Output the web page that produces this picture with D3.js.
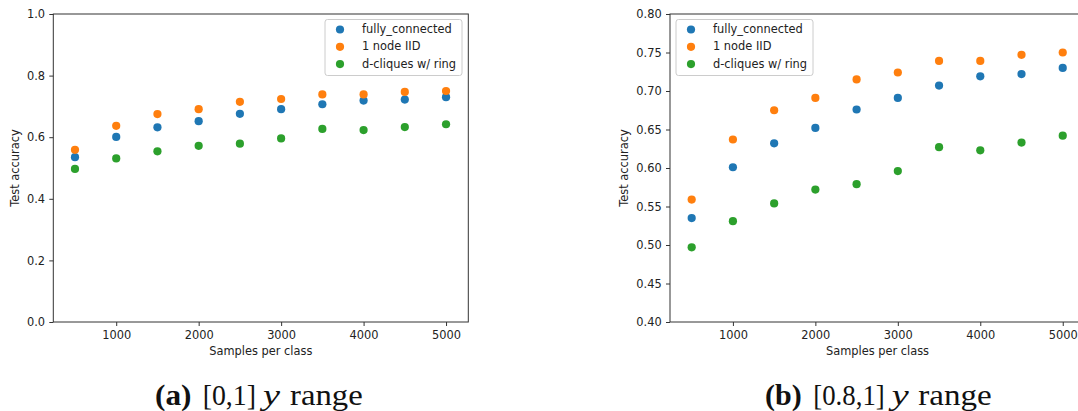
<!DOCTYPE html>
<html><head><meta charset="utf-8">
<script src="https://cdn.jsdelivr.net/npm/d3@7"></script>
<style>
html,body{margin:0;padding:0;background:#fff;}
svg{display:block;}
</style></head>
<body>
<script>
const samples = [500,1000,1500,2000,2500,3000,3500,4000,4500,5000];
const fullyConnected = [0.535,0.601,0.632,0.652,0.676,0.691,0.707,0.719,0.722,0.730];
const oneNodeIID = [0.559,0.637,0.675,0.691,0.715,0.724,0.739,0.739,0.747,0.750];
const dCliquesRing = [0.497,0.531,0.554,0.572,0.579,0.596,0.627,0.623,0.633,0.642];
const seriesNames = ["fully_connected","1 node IID","d-cliques w/ ring"];
const seriesColors = ["#1f77b4","#ff7f0e","#2ca02c"];
const xTicks = [1000,2000,3000,4000,5000];
const yTicksA = [0.0,0.2,0.4,0.6,0.8,1.0];
const yTicksB = [0.40,0.45,0.50,0.55,0.60,0.65,0.70,0.75,0.80];

const W=1078,H=411;
const svg=d3.select("body").append("svg").attr("width",W).attr("height",H);
const series=[fullyConnected,oneNodeIID,dCliquesRing];
const txt="#222";
const FONT="'DejaVu Sans', sans-serif";
const FS="11.4px";

function panel(opt){
  const g=svg.append("g");
  const x=d3.scaleLinear().domain([237,5270]).range([opt.left,opt.left+415]);
  const y=d3.scaleLinear().domain(opt.ydom).range([322,14]);
  const x0=opt.left, x1=opt.left+415;
  g.append("rect").attr("x",x0).attr("y",14).attr("width",415).attr("height",308)
    .attr("fill","none").attr("stroke","#333").attr("stroke-width",1);
  const xa=g.append("g").attr("transform","translate(0,322)")
    .call(d3.axisBottom(x).tickValues(xTicks).tickSize(4).tickPadding(5).tickFormat(d3.format("d")));
  xa.select(".domain").remove();
  xa.selectAll("line").attr("stroke","#333");
  xa.selectAll("text").attr("font-family",FONT).attr("font-size",FS).attr("fill",txt);
  const ya=g.append("g").attr("transform",`translate(${x0},0)`)
    .call(d3.axisLeft(y).tickValues(opt.yticks).tickSize(4).tickPadding(4.3).tickFormat(d3.format(opt.yfmt)));
  ya.select(".domain").remove();
  ya.selectAll("line").attr("stroke","#333");
  ya.selectAll("text").attr("font-family",FONT).attr("font-size",FS).attr("fill",txt);
  g.append("text").attr("x",(x0+x1)/2).attr("y",355).attr("text-anchor","middle")
    .attr("font-family",FONT).attr("font-size",FS).attr("fill",txt).text("Samples per class");
  g.append("text").attr("transform",`translate(${opt.ylabX},168) rotate(-90)`).attr("text-anchor","middle")
    .attr("font-family",FONT).attr("font-size",FS).attr("fill",txt).text("Test accuracy");
  series.forEach((s,i)=>{
    g.append("g").selectAll("circle").data(samples.map((d,j)=>[d,s[j]])).join("circle")
      .attr("cx",d=>x(d[0])).attr("cy",d=>y(d[1])).attr("r",4.1).attr("fill",seriesColors[i]);
  });
  const lg=g.append("g");
  lg.append("rect").attr("x",opt.legX).attr("y",19.5).attr("width",opt.legW).attr("height",56).attr("rx",2.5)
    .attr("fill","#fff").attr("fill-opacity",0.8).attr("stroke","#ccc").attr("stroke-width",1);
  seriesNames.forEach((n,i)=>{
    const cy=29.5+i*17.3;
    lg.append("circle").attr("cx",opt.legX+15).attr("cy",cy).attr("r",4.1).attr("fill",seriesColors[i]);
    lg.append("text").attr("x",opt.legX+37).attr("y",cy+3.6).attr("font-family",FONT).attr("font-size",FS)
      .attr("fill",txt).text(n);
  });
}
panel({left:53.3,ydom:[0,1],yticks:yTicksA,yfmt:".1f",ylabX:18.5,legX:325,legW:137});
panel({left:670,ydom:[0.4,0.8],yticks:yTicksB,yfmt:".2f",ylabX:628,legX:676,legW:137});

function cap(parts){
  parts.forEach(p=>{
    const t=svg.append("text").attr("x",p.x).attr("y",405)
      .attr("font-family","'Liberation Serif', 'Times New Roman', serif")
      .attr("font-size","30px").attr("fill","#111")
      .attr("textLength",p.w).attr("lengthAdjust","spacingAndGlyphs").text(p.t);
    if(p.b) t.attr("font-weight","bold");
    if(p.i) t.attr("font-style","italic");
  });
}
cap([{t:"(a)",x:155,w:36.5,b:1},{t:"[0,1]",x:202.7,w:53.3},{t:"y",x:263,w:17,i:1},{t:"range",x:290,w:72.7}]);
cap([{t:"(b)",x:765,w:36.7,b:1},{t:"[0.8,1]",x:813.3,w:71.4},{t:"y",x:891.7,w:17,i:1},{t:"range",x:918.3,w:73.4}]);
</script>
</body></html>
